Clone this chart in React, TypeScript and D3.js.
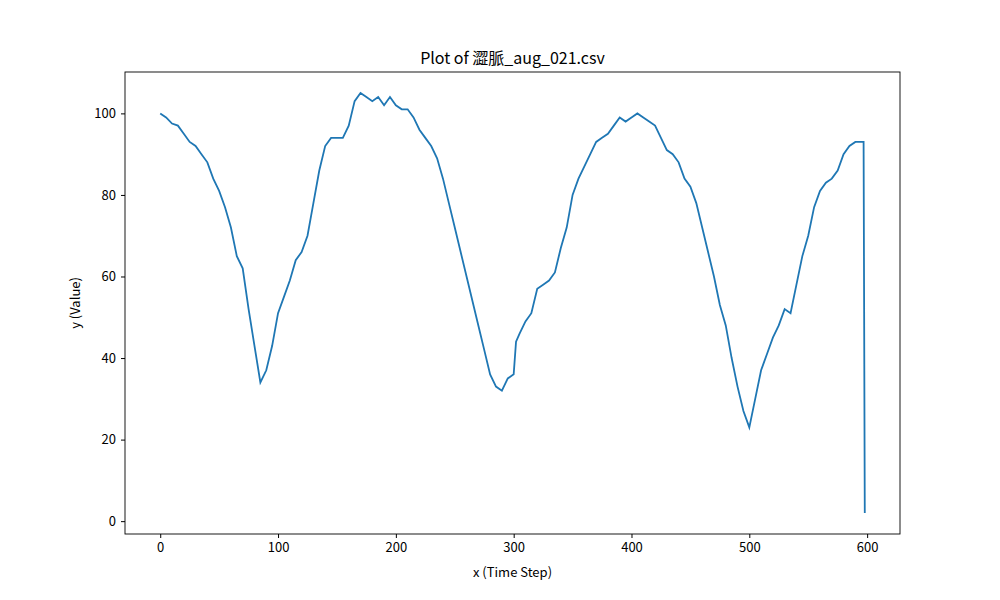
import { useEffect, useRef } from "react";
import * as d3 from "d3";

const W = 1000;
const H = 600;
const M = { top: 72, right: 100, bottom: 66, left: 125 };

// Time steps and values
const steps = [
  0, 5, 10, 15, 20, 25, 30, 35, 40, 45, 50, 55, 60, 65, 70, 75, 80, 85, 90, 95,
  100, 105, 110, 115, 120, 125, 130, 135, 140, 145, 150, 155, 160, 165, 170, 175, 180, 185, 190, 195,
  200, 205, 210, 215, 220, 225, 230, 235, 240, 245, 250, 255, 260, 265, 270, 275, 280, 285, 290, 295,
  300, 302, 305, 310, 315, 320, 325, 330, 335, 340, 345, 350, 355, 360, 365, 370, 375, 380, 385, 390, 395,
  400, 405, 410, 415, 420, 425, 430, 435, 440, 445, 450, 455, 460, 465, 470, 475, 480, 485, 490, 495,
  500, 505, 510, 515, 520, 525, 530, 535, 540, 545, 550, 555, 560, 565, 570, 575, 580, 585, 590, 595, 597, 598,
];
const values = [
  100, 99, 97.5, 97, 95, 93, 92, 90, 88, 84, 81, 77, 72, 65, 62, 52, 43, 34, 37, 43,
  51, 55, 59, 64, 66, 70, 78, 86, 92, 94, 94, 94, 97, 103, 105, 104, 103, 104, 102, 104,
  102, 101, 101, 99, 96, 94, 92, 89, 84, 78, 72, 66, 60, 54, 48, 42, 36, 33, 32, 35,
  36, 44, 46, 49, 51, 57, 58, 59, 61, 67, 72, 80, 84, 87, 90, 93, 94, 95, 97, 99, 98,
  99, 100, 99, 98, 97, 94, 91, 90, 88, 84, 82, 78, 72, 66, 60, 53, 48, 40, 33, 27,
  23, 30, 37, 41, 45, 48, 52, 51, 58, 65, 70, 77, 81, 83, 84, 86, 90, 92, 93, 93, 93, 2,
];
const xTicks = [0, 100, 200, 300, 400, 500, 600];
const yTicks = [0, 20, 40, 60, 80, 100];

const FONT = "'Noto Sans CJK SC', 'Noto Sans', sans-serif";

export default function App() {
  const ref = useRef<SVGSVGElement>(null);

  useEffect(() => {
    if (!ref.current) return;
    const svg = d3.select(ref.current);
    svg.selectAll("*").remove();
    const iw = W - M.left - M.right;
    const ih = H - M.top - M.bottom;
    const xPad = (598 - 0) * 0.05;
    const yMin = d3.min(values)!, yMax = d3.max(values)!;
    const yPad = (yMax - yMin) * 0.05;
    const x = d3.scaleLinear().domain([-xPad, 598 + xPad]).range([0, iw]);
    const y = d3.scaleLinear().domain([yMin - yPad, yMax + yPad]).range([ih, 0]);

    const g = svg.append("g").attr("transform", `translate(${M.left},${M.top})`);

    g.append("path")
      .datum(steps.map((s, i) => [s, values[i]] as [number, number]))
      .attr("fill", "none")
      .attr("stroke", "#1f77b4")
      .attr("stroke-width", 1.8)
      .attr("d", d3.line().x((d) => x(d[0])).y((d) => y(d[1])));

    g.append("rect").attr("width", iw).attr("height", ih).attr("fill", "none").attr("stroke", "#000").attr("stroke-width", 0.9);

    const style = (sel: any) => {
      sel.select(".domain").remove();
      sel.selectAll("text").attr("font-size", 13).attr("font-family", FONT).attr("fill", "#000");
      sel.selectAll("line").attr("stroke", "#000");
    };
    g.append("g").attr("transform", `translate(0,${ih})`)
      .call(d3.axisBottom(x).tickValues(xTicks).tickSize(4).tickPadding(5)).call(style);
    g.append("g")
      .call(d3.axisLeft(y).tickValues(yTicks).tickSize(4).tickPadding(5)).call(style);

    g.append("text").attr("x", iw / 2).attr("y", -8).attr("text-anchor", "middle")
      .attr("font-size", 16).attr("font-family", FONT).text("Plot of 澀脈_aug_021.csv");
    g.append("text").attr("x", iw / 2).attr("y", ih + 43).attr("text-anchor", "middle")
      .attr("font-size", 13).attr("font-family", FONT).text("x (Time Step)");
    g.append("text").attr("transform", "rotate(-90)").attr("x", -ih / 2).attr("y", -45)
      .attr("text-anchor", "middle").attr("font-size", 13).attr("font-family", FONT).text("y (Value)");
  }, []);

  return <svg ref={ref} width={W} height={H} style={{ position: "absolute", left: 0, top: 0, background: "#fff" }} />;
}
